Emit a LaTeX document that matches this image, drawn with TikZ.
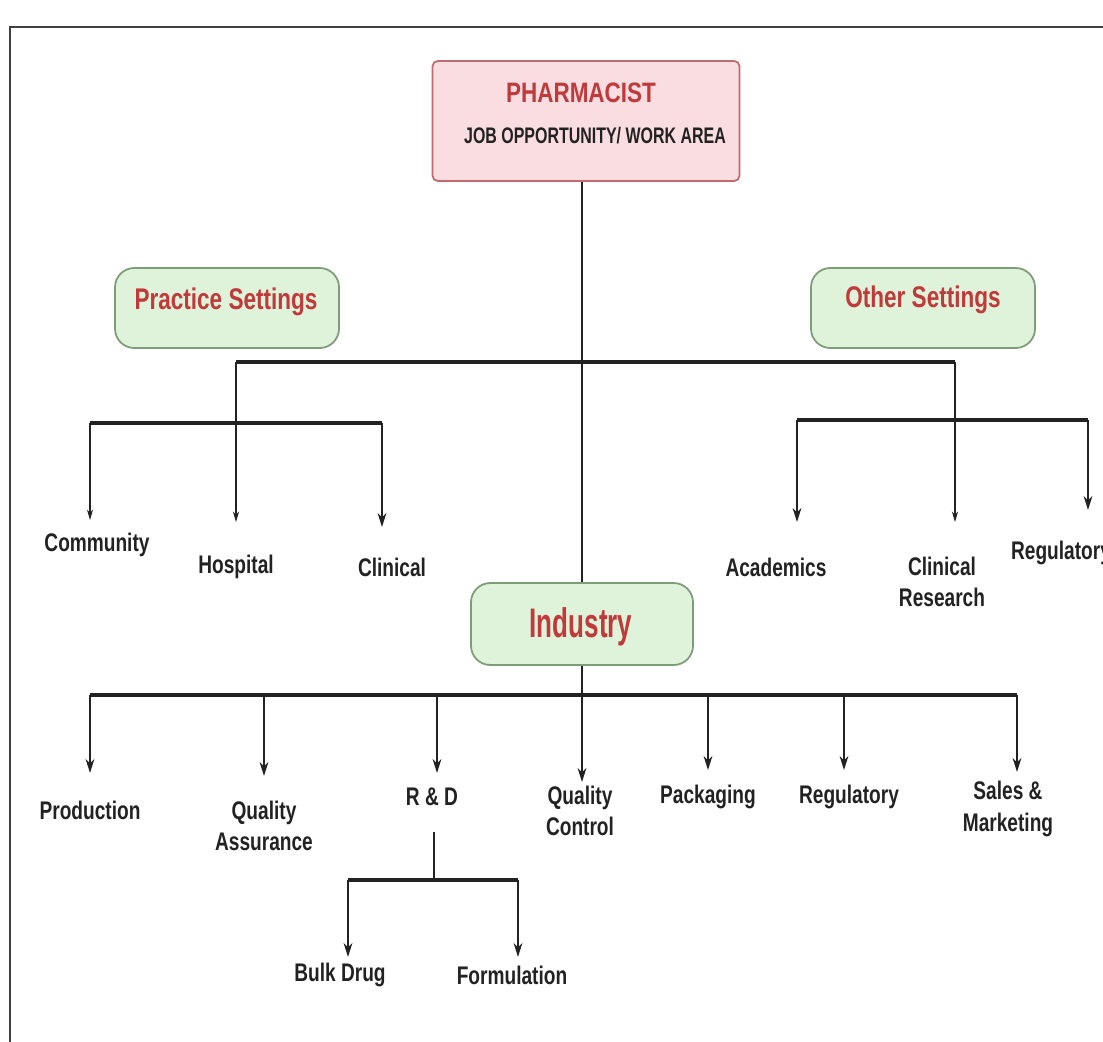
\documentclass[tikz,border=0pt]{standalone}
\usepackage{fontspec}
\usetikzlibrary{arrows.meta}
\newfontfamily\cf[FakeStretch=0.75]{Liberation Sans}
\newfontfamily\cfp[FakeStretch=0.8]{Liberation Sans}
\newfontfamily\cfj[FakeStretch=0.71]{Liberation Sans}
\newfontfamily\cfs[FakeStretch=0.755]{Liberation Sans}
\newfontfamily\cfi[FakeStretch=0.63]{Liberation Sans}
\definecolor{phfill}{HTML}{F9DDE0}
\definecolor{phdraw}{HTML}{C06A72}
\definecolor{gfill}{HTML}{DEF3DA}
\definecolor{gdraw}{HTML}{7E9C78}
\definecolor{redtxt}{HTML}{C0393B}
\definecolor{ink}{HTML}{222222}
\tikzset{
  phbox/.style={draw=phdraw, fill=phfill, line width=1pt, rounded corners=3pt, minimum width=307*0.02cm, minimum height=120*0.02cm, inner sep=0pt},
  gbox/.style={draw=gdraw, fill=gfill, line width=1pt, rounded corners=11pt, minimum width=224*0.02cm, minimum height=80*0.02cm, inner sep=0pt},
  rtitle/.style={text=redtxt, font=\cfs\bfseries\fontsize{17}{19}\selectfont, inner sep=0pt},
  lbl/.style={text=ink, font=\cf\bfseries\fontsize{14.5}{18}\selectfont, align=center, inner sep=0pt},
  bar/.style={draw=ink, line width=1.8pt},
  thin/.style={draw=ink, line width=0.7pt},
  tarr/.style={draw=ink, line width=0.7pt, -{Stealth[length=6pt,width=3.5pt]}},
  marr/.style={draw=ink, line width=1pt, -{Stealth[length=8pt,width=5pt]}},
}
\begin{document}
\begin{tikzpicture}[x=0.02cm,y=-0.02cm]
\useasboundingbox (0,0) rectangle (1103,1042);
\fill[white] (0,0) rectangle (1103,1042);
% frame
\draw[line width=1pt, black!75] (10,1042) -- (10,27) -- (1103,27);

% boxes
\node[phbox] (ph) at (586,121) {};
\node[rtitle, font=\cfp\bfseries\fontsize{16}{18}\selectfont] (pht) at (581,93) {PHARMACIST};
\node[text=ink, font=\cfj\bfseries\fontsize{12.8}{14}\selectfont, inner sep=0pt] (phs) at (595,136) {JOB OPPORTUNITY/ WORK AREA};
\node[gbox] (ps) at (227,308) {};
\node[rtitle] (pst) at (226,302) {Practice Settings};
\node[gbox] (os) at (923,308) {};
\node[rtitle] (ost) at (923,300) {Other Settings};
\node[gbox, minimum width=222*0.02cm, minimum height=82*0.02cm] (ind) at (582,624) {};
\node[rtitle, font=\cfi\bfseries\fontsize{23.5}{26}\selectfont] (indt) at (581,627) {Industry};

% labels
\node[lbl] (comm) at (97,545) {Community};
\node[lbl] (hosp) at (236,567) {Hospital};
\node[lbl] (clin) at (392,567) {Clinical};
\node[lbl] (acad) at (776,567) {Academics};
\node[lbl] (cres) at (942,582) {Clinical\\Research};
\node[lbl] (oreg) at (1061,553) {Regulatory};
\node[lbl] (prod) at (90,810) {Production};
\node[lbl] (qa) at (264,826) {Quality\\Assurance};
\node[lbl] (rd) at (432,797) {R \& D};
\node[lbl] (qc) at (580,811) {Quality\\Control};
\node[lbl] (pack) at (708,797) {Packaging};
\node[lbl] (ireg) at (849,797) {Regulatory};
\node[lbl] (sales) at (1008,809) {Sales \&\\Marketing};
\node[lbl] (bulk) at (340,975) {Bulk Drug};
\node[lbl] (form) at (512,975) {Formulation};

% coordinates
\coordinate (ml) at (236,362);
\coordinate (mr) at (955,362);
\coordinate (ll) at (90,423);
\coordinate (lr) at (382,423);
\coordinate (rl) at (797,420);
\coordinate (rr) at (1088,420);
\coordinate (il) at (90,695);
\coordinate (ir) at (1017,695);
\coordinate (rdtop) at (434,832);
\coordinate (rdj) at (434,880);
\coordinate (bl) at (348,880);
\coordinate (br) at (518,880);
% tips
\coordinate (commT) at (90,520);
\coordinate (hospT) at (236,522);
\coordinate (clinT) at (382,527);
\coordinate (acadT) at (797,522);
\coordinate (cresT) at (955,522);
\coordinate (oregT) at (1088,510);
\coordinate (prodT) at (90,773);
\coordinate (qaT) at (264,776);
\coordinate (rdT) at (437,773);
\coordinate (qcT) at (582,782);
\coordinate (packT) at (708,770);
\coordinate (iregT) at (844,770);
\coordinate (salesT) at (1017,772);
\coordinate (bulkT) at (348,957);
\coordinate (formT) at (518,957);

% trunk
\draw[thin] (ind.north |- ph.south) -- (ind.north);
\draw[marr] (ind.south) -- (qcT);

% practice / other
\draw[bar] (ml) -- (mr);
\draw[tarr] (ml) -- (hospT);
\draw[tarr] (mr) -- (cresT);
\draw[bar] (ll) -- (lr);
\draw[tarr] (ll) -- (commT);
\draw[marr] (lr) -- (clinT);
\draw[bar] (rl) -- (rr);
\draw[marr] (rl) -- (acadT);
\draw[marr] (rr) -- (oregT);

% industry
\draw[bar] (il) -- (ir);
\draw[marr] (il) -- (prodT);
\draw[marr] (264,695) -- (qaT);
\draw[marr] (437,695) -- (rdT);
\draw[marr] (708,695) -- (packT);
\draw[marr] (844,695) -- (iregT);
\draw[marr] (ir) -- (salesT);

% R&D
\draw[thin] (rdtop) -- (rdj);
\draw[bar] (bl) -- (br);
\draw[marr] (bl) -- (bulkT);
\draw[marr] (br) -- (formT);
\end{tikzpicture}
\end{document}
